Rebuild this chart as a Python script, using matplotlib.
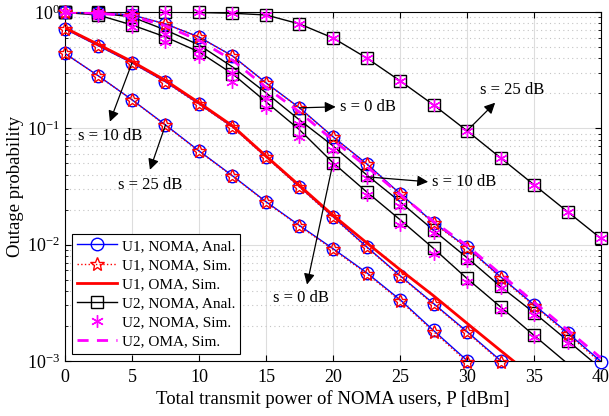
import numpy as np
import matplotlib.pyplot as plt
from matplotlib.lines import Line2D

plt.rcParams['font.family'] = 'Liberation Serif'
plt.rcParams['mathtext.fontset'] = 'stix'

# transmit power [dBm]
P = [0, 2.5, 5, 7.5, 10, 12.5, 15, 17.5, 20, 22.5, 25, 27.5, 30, 32.5, 35, 37.5, 40]

# U1, NOMA, analysis (s = 0, 10, 25 dB)
u1_anal_s0 = [0.99, 0.98, 0.943, 0.789, 0.610, 0.419, 0.246, 0.150, 0.0846, 0.0497, 0.0275,
              0.0155, 0.00949, 0.00530, 0.00304, 0.00175, 0.00099]
u1_anal_s10 = [0.715, 0.511, 0.365, 0.251, 0.162, 0.103, 0.0569, 0.0315, 0.0174, 0.00961, 0.00542,
               0.00312, 0.00179, 0.00101, 0.00058, 0.00033, 0.00019]
u1_anal_s25 = [0.44, 0.282, 0.176, 0.107, 0.064, 0.0391, 0.0234, 0.0146, 0.00924, 0.00575, 0.00337,
               0.00183, 0.00101, 0.00056, 0.00031, 0.00017, 0.0001]

# U1, NOMA, simulation
u1_sim_s0 = [0.99, 0.98, 0.945, 0.79, 0.608, 0.418, 0.245, 0.149, 0.0843, 0.0494, 0.0272,
             0.0153, 0.00935, 0.00522, 0.00298, 0.00171, 0.00096]
u1_sim_s10 = [0.716, 0.512, 0.366, 0.250, 0.161, 0.102, 0.0565, 0.0312, 0.0172, 0.0095, 0.00535,
              0.00307, 0.00176, 0.00099, 0.00057, 0.00032, 0.00018]
u1_sim_s25 = [0.44, 0.281, 0.176, 0.106, 0.0635, 0.0388, 0.0232, 0.0144, 0.0091, 0.00565, 0.0033,
              0.00179, 0.00098, 0.00055, 0.0003, 0.00017, 0.0001]

# U1, OMA, simulation
u1_oma = [0.73, 0.525, 0.375, 0.258, 0.166, 0.105, 0.0578, 0.0322, 0.0179, 0.0104, 0.0061,
          0.00364, 0.00211, 0.00123, 0.00072, 0.00042, 0.00025]

# U2, NOMA, analysis
u2_anal_s0 = [0.99, 0.94, 0.773, 0.610, 0.454, 0.294, 0.169, 0.0972, 0.0506, 0.0285, 0.0164,
              0.00929, 0.00512, 0.00292, 0.00166, 0.00095, 0.00054]
u2_anal_s10 = [0.99, 0.98, 0.906, 0.70, 0.521, 0.337, 0.202, 0.118, 0.0707, 0.0399, 0.0234,
               0.0133, 0.00773, 0.00437, 0.00260, 0.00150, 0.00086]
u2_anal_s25 = [0.999, 0.999, 0.998, 0.996, 0.99, 0.975, 0.943, 0.789, 0.598, 0.403, 0.256,
               0.159, 0.0952, 0.0558, 0.0327, 0.0192, 0.0113]

# U2, NOMA, simulation
u2_sim_s0 = [0.99, 0.924, 0.743, 0.553, 0.411, 0.251, 0.150, 0.0846, 0.0486, 0.0268, 0.0149,
             0.00824, 0.00482, 0.00272, 0.00161, 0.00094, 0.00052]
u2_sim_s10 = [0.99, 0.96, 0.854, 0.647, 0.472, 0.30, 0.183, 0.11, 0.0655, 0.0376, 0.0217,
              0.0125, 0.00729, 0.00421, 0.00250, 0.00144, 0.00083]
u2_sim_s25 = [0.999, 0.999, 0.998, 0.996, 0.99, 0.975, 0.943, 0.789, 0.598, 0.403, 0.256,
              0.159, 0.0952, 0.0558, 0.0327, 0.0192, 0.0113]

# U2, OMA, simulation
u2_oma = [0.995, 0.975, 0.92, 0.76, 0.57, 0.385, 0.225, 0.138, 0.079, 0.047, 0.027,
          0.0158, 0.0098, 0.0056, 0.0032, 0.00185, 0.00106]

BLUE, RED, MAG = '#0000ff', '#ff0000', '#ff00ff'
AST = (6, 2, 0)


def curve(ax, y, color, ls='-', lw=1.0, marker=None, ms=8, z=2, dashes=None):
    y = np.array(y)
    if ls != 'none':
        kw = {} if dashes is None else {'dashes': dashes}
        ax.plot(P, y, color=color, ls=ls, lw=lw, zorder=z, **kw)
    if marker is not None:
        ym = np.where(y >= 9.7e-4, y, np.nan)
        ax.plot(P, ym, ls='none', marker=marker, ms=ms, mfc='none', mec=color,
                mew=1.0, clip_on=False, zorder=z + 0.1)


fig = plt.figure(figsize=(6.09, 4.16), dpi=100)
ax = fig.add_axes([0.1067, 0.1322, 0.8802, 0.839])

for y in (u2_anal_s0, u2_anal_s10, u2_anal_s25):
    curve(ax, y, 'k', marker='s', ms=8, z=2)
for y in (u1_anal_s0, u1_anal_s10, u1_anal_s25):
    curve(ax, y, BLUE, marker='o', ms=9, z=3)
curve(ax, u1_oma, RED, lw=2.0, z=4)
for y in (u1_sim_s0, u1_sim_s10, u1_sim_s25):
    curve(ax, y, RED, ls=':', marker='*', ms=10, z=5)
for y in (u2_sim_s0, u2_sim_s10, u2_sim_s25):
    curve(ax, y, MAG, ls='none', marker=AST, ms=9, z=6)
curve(ax, u2_oma, MAG, ls='--', lw=2.0, z=7, dashes=(4, 3))

ax.set_yscale('log')
ax.set_xlim(0, 40)
ax.set_ylim(1e-3, 1)
ax.set_xticks(range(0, 41, 5))
ax.tick_params(which='both', direction='in', top=True, right=True, labelsize=13)
ax.tick_params(which='major', length=4)
ax.tick_params(axis='x', pad=6)
ax.tick_params(which='minor', length=2.5)
ax.grid(True, which='major', color='#dddddd', lw=0.8)
ax.grid(True, which='minor', axis='y', color='#c4c4c4', ls=(0, (1, 3)), lw=0.8)
ax.set_axisbelow(True)
for s in ax.spines.values():
    s.set_linewidth(0.8)

ax.set_xlabel('Total transmit power of NOMA users, P [dBm]', fontsize=13.5, labelpad=3)
ax.set_ylabel('Outage probability', fontsize=13.5, labelpad=2)

# annotations: arrows start on a curve and point at the label
arrow = dict(arrowstyle='-|>', color='k', lw=0.9, mutation_scale=16, shrinkA=0, shrinkB=0)
notes = [
    ('s = 0 dB', (17.5, 0.150), (20.2, 0.153), (20.5, 0.153), 'left'),
    ('s = 25 dB', (30, 0.0952), (32.1, 0.166), (33.4, 0.214), 'center'),
    ('s = 10 dB', (22.5, 0.0383), (27.1, 0.0347), (27.4, 0.0347), 'left'),
    ('s = 10 dB', (5, 0.365), (3.35, 0.114), (3.35, 0.0862), 'center'),
    ('s = 25 dB', (7.5, 0.107), (6.34, 0.044), (6.34, 0.0327), 'center'),
    ('s = 0 dB', (20, 0.0506), (18.06, 0.00454), (17.6, 0.00351), 'center'),
]
for txt, start, head, pos, ha in notes:
    ax.annotate('', xy=head, xytext=start, arrowprops=arrow, zorder=8)
    ax.text(pos[0], pos[1], txt, fontsize=12, ha=ha, va='center', zorder=8)

handles = [
    Line2D([], [], color=BLUE, marker='o', mfc='none', ms=9, lw=1),
    Line2D([], [], color=RED, ls=':', marker='*', mfc='none', ms=10, lw=1),
    Line2D([], [], color=RED, lw=2),
    Line2D([], [], color='k', marker='s', mfc='none', ms=8, lw=1),
    Line2D([], [], color=MAG, ls='none', marker=AST, ms=9),
    Line2D([], [], color=MAG, ls='--', lw=2, dashes=(4, 3)),
]
labels = ['U1, NOMA, Anal.', 'U1, NOMA, Sim.', 'U1, OMA, Sim.',
          'U2, NOMA, Anal.', 'U2, NOMA, Sim.', 'U2, OMA, Sim.']
leg = ax.legend(handles, labels, loc='lower left', bbox_to_anchor=(0.013, 0.02),
                borderaxespad=0, fontsize=11, fancybox=False, framealpha=1,
                edgecolor='k', handlelength=2.6, handletextpad=0.3,
                labelspacing=0.36, borderpad=0.35)
leg.get_frame().set_linewidth(0.8)
leg.set_zorder(10)

fig.savefig('out.png', dpi=100)
